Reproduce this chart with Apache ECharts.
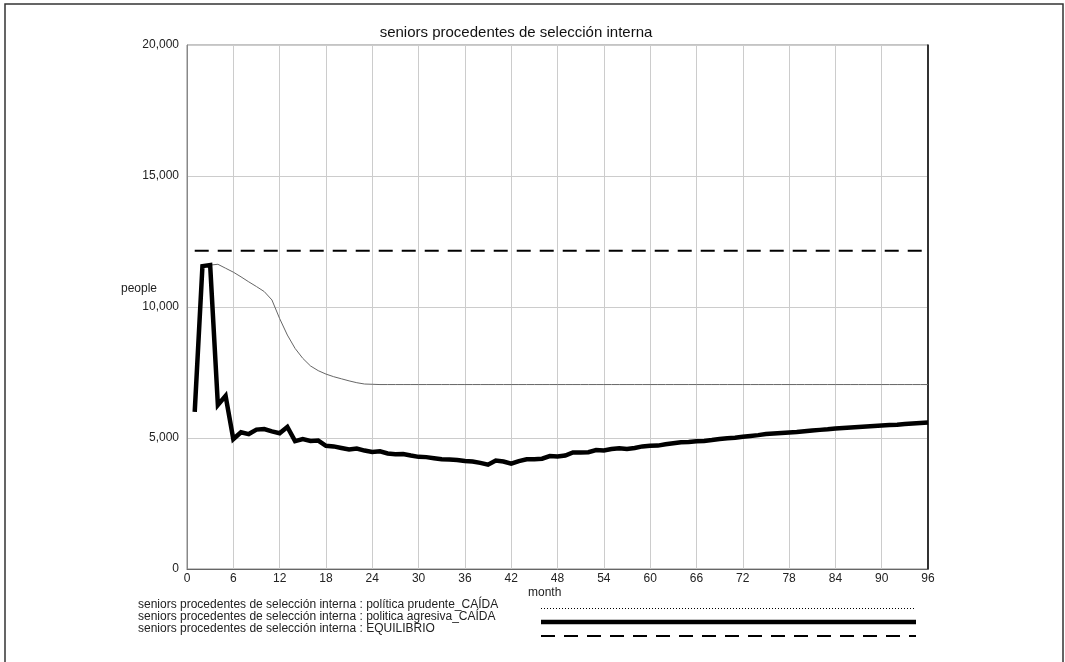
<!DOCTYPE html>
<html>
<head>
<meta charset="utf-8">
<script src="https://cdn.jsdelivr.net/npm/echarts@6/dist/echarts.min.js"></script>
<style>
html,body{margin:0;padding:0;background:#fff;}
#c{width:1065px;height:662px;}
</style>
</head>
<body>
<div id="c"></div>
<script>
const title = 'seniors procedentes de selección interna';
const yAxisName = 'people';
const xAxisName = 'month';
const seriesNames = [
  'seniors procedentes de selección interna : política prudente_CAÍDA',
  'seniors procedentes de selección interna : politica agresiva_CAÍDA',
  'seniors procedentes de selección interna : EQUILIBRIO'
];
const months = [1,2,3,4,5,6,7,8,9,10,11,12,13,14,15,16,17,18,19,20,21,22,23,24,25,26,27,28,29,30,31,32,33,34,35,36,37,38,39,40,41,42,43,44,45,46,47,48,49,50,51,52,53,54,55,56,57,58,59,60,61,62,63,64,65,66,67,68,69,70,71,72,73,74,75,76,77,78,79,80,81,82,83,84,85,86,87,88,89,90,91,92,93,94,95,96];
const prudente = [6000,11560,11600,11630,11480,11330,11150,10960,10780,10590,10270,9560,8930,8420,8040,7750,7570,7440,7340,7260,7180,7110,7060,7050,7040,7040,7040,7040,7040,7040,7040,7040,7040,7040,7040,7040,7040,7040,7040,7040,7040,7040,7040,7040,7040,7040,7040,7040,7040,7040,7040,7040,7040,7040,7040,7040,7040,7040,7040,7040,7040,7040,7040,7040,7040,7040,7040,7040,7040,7040,7040,7040,7040,7040,7040,7040,7040,7040,7040,7040,7040,7040,7040,7040,7040,7040,7040,7040,7040,7040,7040,7040,7040,7040,7040,7040];
const agresiva = [6000,11560,11600,6260,6610,4960,5220,5150,5320,5340,5250,5180,5420,4880,4960,4890,4900,4700,4680,4620,4560,4600,4520,4470,4490,4410,4380,4390,4330,4280,4270,4230,4190,4180,4160,4120,4100,4050,3980,4140,4100,4020,4120,4190,4190,4210,4310,4290,4330,4450,4450,4460,4540,4520,4580,4610,4580,4620,4680,4700,4710,4760,4800,4840,4850,4880,4890,4920,4960,4990,5010,5050,5080,5110,5150,5170,5190,5210,5230,5260,5290,5310,5330,5360,5380,5400,5420,5440,5460,5480,5500,5510,5530,5550,5570,5590];
const equilibrio = [12150,12150,12150,12150,12150,12150,12150,12150,12150,12150,12150,12150,12150,12150,12150,12150,12150,12150,12150,12150,12150,12150,12150,12150,12150,12150,12150,12150,12150,12150,12150,12150,12150,12150,12150,12150,12150,12150,12150,12150,12150,12150,12150,12150,12150,12150,12150,12150,12150,12150,12150,12150,12150,12150,12150,12150,12150,12150,12150,12150,12150,12150,12150,12150,12150,12150,12150,12150,12150,12150,12150,12150,12150,12150,12150,12150,12150,12150,12150,12150,12150,12150,12150,12150,12150,12150,12150,12150,12150,12150,12150,12150,12150,12150,12150,12150];

const pair = arr => months.map((m, i) => [m, arr[i]]);
const FONT = '"Liberation Sans", Arial, sans-serif';

const chart = echarts.init(document.getElementById('c'), null, {renderer: 'canvas'});
chart.setOption({
  animation: false,
  backgroundColor: '#fff',
  title: {
    text: title, left: 511, top: 20, textAlign: 'center',
    textStyle: {fontFamily: FONT, fontSize: 15, fontWeight: 'normal', color: '#111'}
  },
  grid: {left: 187, right: 137, top: 45, bottom: 93, show: true, borderColor: '#888', borderWidth: 1},
  xAxis: {
    type: 'value', min: 0, max: 96, interval: 6,
    axisLine: {show: true, lineStyle: {color: '#666', width: 1}},
    axisTick: {show: false},
    axisLabel: {fontFamily: FONT, fontSize: 12, color: '#222', margin: 4},
    splitLine: {show: true, lineStyle: {color: '#ccc', width: 1}}
  },
  yAxis: [{
    type: 'value', min: 0, max: 20000, interval: 5000,
    axisLine: {show: true, lineStyle: {color: '#888', width: 1}},
    axisTick: {show: false},
    axisLabel: {fontFamily: FONT, fontSize: 12, color: '#222', margin: 8,
      formatter: v => v.toLocaleString('en-US')},
    splitLine: {show: true, lineStyle: {color: '#ccc', width: 1}}
  }, {
    type: 'value', min: 0, max: 20000, position: 'right',
    axisLine: {show: true, lineStyle: {color: '#000', width: 1.5}},
    axisTick: {show: false}, axisLabel: {show: false}, splitLine: {show: false}
  }],
  series: [
    {name: seriesNames[0], type: 'line', data: pair(prudente), showSymbol: false, symbol: 'none',
      lineStyle: {color: '#666', width: 1, type: 'solid'}},
    {name: seriesNames[2], type: 'line', data: pair(equilibrio), showSymbol: false, symbol: 'none',
      lineStyle: {color: '#000', width: 2, type: [14, 9]}},
    {name: seriesNames[1], type: 'line', data: pair(agresiva), showSymbol: false, symbol: 'none',
      lineStyle: {color: '#000', width: 4.5, join: 'miter'}}
  ],
  graphic: [
    {type: 'rect', shape: {x: 5, y: 4, width: 1058, height: 700}, style: {fill: 'none', stroke: '#333', lineWidth: 1.5}, silent: true},
    {type: 'text', left: 121, top: 283, style: {text: yAxisName, font: '12px ' + FONT, fill: '#222'}},
    {type: 'text', left: 528, top: 587, style: {text: xAxisName, font: '12px ' + FONT, fill: '#222'}},
    {type: 'text', left: 138, top: 599, style: {text: seriesNames[0], font: '12px ' + FONT, fill: '#222'}},
    {type: 'text', left: 138, top: 611, style: {text: seriesNames[1], font: '12px ' + FONT, fill: '#222'}},
    {type: 'text', left: 138, top: 623, style: {text: seriesNames[2], font: '12px ' + FONT, fill: '#222'}},
    {type: 'line', shape: {x1: 541, y1: 608.5, x2: 916, y2: 608.5}, style: {stroke: '#000', lineWidth: 1, lineDash: [1, 2]}},
    {type: 'line', shape: {x1: 541, y1: 622, x2: 916, y2: 622}, style: {stroke: '#000', lineWidth: 4.5}},
    {type: 'line', shape: {x1: 541, y1: 636, x2: 916, y2: 636}, style: {stroke: '#000', lineWidth: 2, lineDash: [14, 9]}}
  ]
});
</script>
</body>
</html>
